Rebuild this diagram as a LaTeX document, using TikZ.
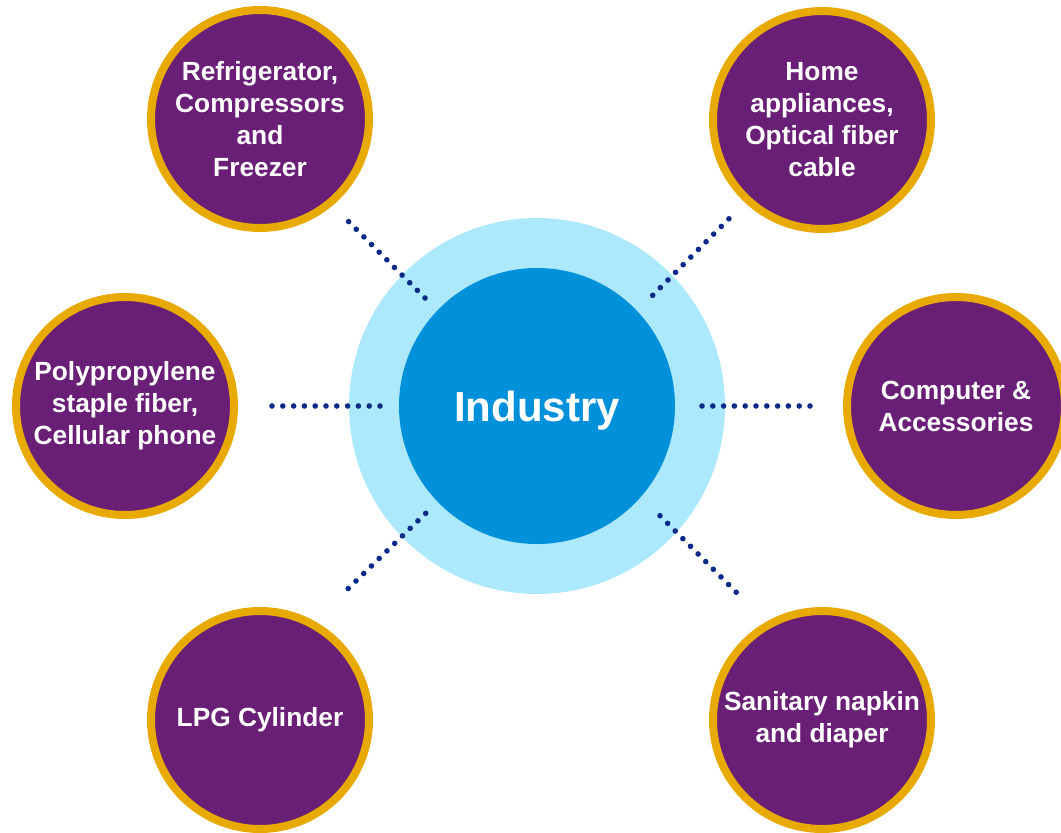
\documentclass[tikz,border=0pt]{standalone}
\usepackage{fontspec}
\setmainfont{Liberation Sans}
\definecolor{purp}{HTML}{6A1F76}
\definecolor{gold}{HTML}{E8A900}
\definecolor{lightb}{HTML}{ADE9FD}
\definecolor{darkb}{HTML}{0091DA}
\definecolor{dotblue}{HTML}{0A2A88}
\begin{document}
\begin{tikzpicture}[x=1pt,y=-1pt,
  sat/.style={circle,minimum size=218pt,inner sep=0pt,draw=gold,line width=8pt,fill=purp,text=white,align=center,font=\fontsize{26.3}{32}\selectfont\bfseries},
  dots/.style={draw=dotblue,line width=5.6pt,line cap=round,dash pattern=on 0pt off 10.8pt}]
\useasboundingbox (0,0) rectangle (1061,833);
\clip (0,0) rectangle (1061,833);
\node[circle,fill=lightb,minimum size=376pt,inner sep=0pt] (ring) at (537,406) {};
\node[circle,fill=darkb,minimum size=276pt,inner sep=0pt,text=white,font=\fontsize{42}{50}\selectfont\bfseries,text depth=0pt] (ind) at (537,406) {Industry};
\node[sat] (s1) at (260,119) {Refrigerator,\\Compressors\\and\\Freezer};
\node[sat] (s2) at (822,120) {Home\\appliances,\\Optical fiber\\cable};
\node[sat] (s3) at (125,406) {Polypropylene\\staple fiber,\\Cellular phone};
\node[sat] (s4) at (956,406) {Computer \&\\Accessories};
\node[sat] (s5) at (260,720) {LPG Cylinder};
\node[sat] (s6) at (822,720) {Sanitary napkin\\and diaper};
\draw[dots] ([shift={(-112,-108)}]ind.center) -- ([shift={(88,102)}]s1.center);
\draw[dots] ([shift={(115.7,-110.7)}]ind.center) -- ([shift={(-92,97.7)}]s2.center);
\draw[dots] ([shift={(-157,0)}]ind.center) -- ([shift={(145,0)}]s3.center);
\draw[dots] ([shift={(165,0)}]ind.center) -- ([shift={(-144,0)}]s4.center);
\draw[dots] ([shift={(-111.3,107.3)}]ind.center) -- ([shift={(86.7,-130)}]s5.center);
\draw[dots] ([shift={(123,109.7)}]ind.center) -- ([shift={(-84.7,-126.7)}]s6.center);
\end{tikzpicture}
\end{document}
